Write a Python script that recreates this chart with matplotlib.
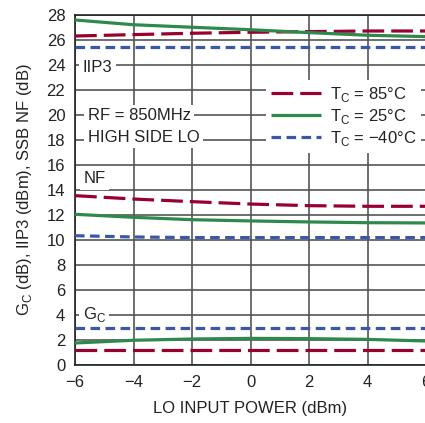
import matplotlib
matplotlib.use("Agg")
import matplotlib.pyplot as plt

plt.rcParams['font.family'] = ['Liberation Sans Narrow', 'Liberation Sans', 'DejaVu Sans']
plt.rcParams['mathtext.fontset'] = 'custom'
plt.rcParams['mathtext.rm'] = 'Liberation Sans'

# Data
lo_power = [-6, -4, -2, 0, 2, 4, 6]
iip3_85 = [26.30, 26.41, 26.52, 26.60, 26.65, 26.70, 26.70]
iip3_25 = [27.58, 27.20, 27.00, 26.80, 26.57, 26.36, 26.25]
iip3_m40 = [25.40, 25.40, 25.40, 25.40, 25.40, 25.40, 25.40]
nf_85 = [13.55, 13.28, 13.07, 12.88, 12.75, 12.70, 12.70]
nf_25 = [12.06, 11.82, 11.63, 11.53, 11.45, 11.39, 11.37]
nf_m40 = [10.35, 10.25, 10.20, 10.20, 10.20, 10.20, 10.20]
gc_85 = [1.25, 1.25, 1.25, 1.25, 1.25, 1.25, 1.25]
gc_25 = [1.78, 2.00, 2.10, 2.15, 2.13, 2.07, 1.94]
gc_m40 = [3.00, 3.00, 3.00, 3.00, 3.00, 3.00, 3.00]

xticks = [-6, -4, -2, 0, 2, 4, 6]
yticks = list(range(0, 29, 2))
labels = ['T$_\\mathregular{C}$ = 85°C', 'T$_\\mathregular{C}$ = 25°C', 'T$_\\mathregular{C}$ = −40°C']

red = '#980030'
green = '#2e8a4c'
blue = '#3a58a8'
lw = 2.3

fig = plt.figure(figsize=(4.25, 4.23), dpi=100)
ax = fig.add_axes([0.1765, 0.1364, 0.826, 0.8288])

styles = [
    (red, (6.8, 2.2)),
    (green, None),
    (blue, (3.0, 1.7)),
]
groups = [
    (iip3_85, iip3_25, iip3_m40),
    (nf_85, nf_25, nf_m40),
    (gc_85, gc_25, gc_m40),
]
handles = []
for gi, grp in enumerate(groups):
    for (col, dash), ys, lab in zip(styles, grp, labels):
        if dash is None:
            ln, = ax.plot(lo_power, ys, color=col, lw=lw, solid_capstyle='butt', zorder=3,
                          label=lab if gi == 0 else None)
        else:
            ln, = ax.plot(lo_power, ys, color=col, lw=lw, dashes=dash, zorder=3,
                          label=lab if gi == 0 else None)
        if gi == 0:
            handles.append(ln)

ax.set_xlim(-6, 6)
ax.set_ylim(0, 28)
ax.set_xticks(xticks)
ax.set_yticks(yticks)
ax.grid(True, color='#555555', lw=1.2, zorder=1)
ax.set_axisbelow(True)
ax.tick_params(length=0, labelsize=12, pad=7, colors='#222222')
for s in ax.spines.values():
    s.set_color('#222222')
    s.set_linewidth(1.2)
ax.spines['right'].set_visible(False)

ax.set_xlabel('LO INPUT POWER (dBm)', fontsize=12, color='#222222', labelpad=8)
ax.set_ylabel('G$_\\mathregular{C}$ (dB), IIP3 (dBm), SSB NF (dB)', fontsize=12,
              color='#222222', labelpad=9)

bb = dict(facecolor='white', edgecolor='none', pad=2.5)
tk = dict(fontsize=12, color='#222222', va='baseline', ha='left', bbox=bb, zorder=2)
ax.text(-5.74, 23.46, 'IIP3', **tk)
ax.text(-5.56, 19.59, 'RF = 850MHz', **tk)
ax.text(-5.56, 17.86, 'HIGH SIDE LO', **tk)
ax.text(-5.72, 14.54, 'NF', **tk)
ax.text(-5.74, 3.72, 'G$_\\mathregular{C}$', **tk)

leg = ax.legend(handles=handles, loc='upper right', bbox_to_anchor=(0.987, 0.815),
                fontsize=12, frameon=True, fancybox=False, framealpha=1,
                edgecolor='none', handlelength=3.0, handletextpad=0.55,
                labelspacing=0.2, borderpad=0.3, borderaxespad=0)
leg.set_zorder(4)
for t in leg.get_texts():
    t.set_color('#222222')

fig.savefig('out.png', dpi=100)
